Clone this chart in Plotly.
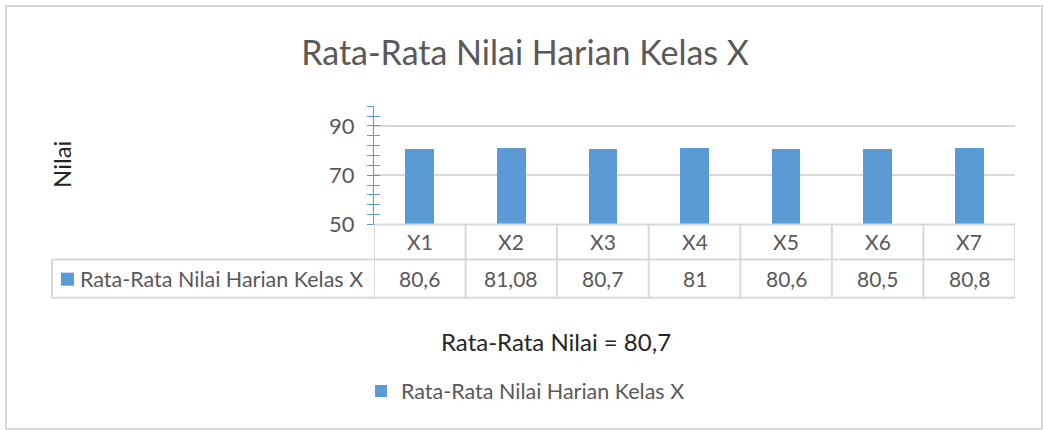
import plotly.graph_objects as go

categories = ["X1", "X2", "X3", "X4", "X5", "X6", "X7"]
values = [80.6, 81.08, 80.7, 81, 80.6, 80.5, 80.8]
series_name = "Rata-Rata Nilai Harian Kelas X"
chart_title = "Rata-Rata Nilai Harian Kelas X"
x_title = "Rata-Rata Nilai = 80,7"
y_title = "Nilai"
y_ticks = [50, 70, 90]

W, H = 1044, 444
REF_H = 430
FONT = "Lato, 'Open Sans', sans-serif"
GRAY = "#595959"
DARK = "#262626"
GRID = "#D9D9D9"
BLUE = "#5B9BD5"

# plot area in reference pixels
px0, px1 = 374, 1015
py_top, py_bot = 106, 224
row1_bot, row2_bot = 259, 297
legend_cell_left = 52

def fx(p):
    return p / W

def fy(p):
    return 1 - p / REF_H

fig = go.Figure()
fig.add_trace(go.Bar(
    x=categories, y=values, name=series_name,
    marker=dict(color=BLUE, line=dict(width=0)),
    width=0.313, showlegend=True,
))
# overlay axis to produce crossing ticks
fig.add_trace(go.Scatter(x=categories, y=values, yaxis="y2", mode="none",
                         showlegend=False, hoverinfo="skip"))

fig.update_layout(
    width=W, height=H,
    margin=dict(l=0, r=0, t=0, b=0),
    paper_bgcolor="white", plot_bgcolor="white",
    font=dict(family=FONT, color=GRAY, size=18),
    title=dict(text=chart_title, x=525 / W, xanchor="center", y=fy(51), yanchor="middle",
               font=dict(size=34, color=GRAY, family=FONT)),
    xaxis=dict(domain=[fx(px0), fx(px1)], range=[-0.5, len(categories) - 0.5],
               showticklabels=False, ticks="", showgrid=False, showline=False, zeroline=False),
    yaxis=dict(domain=[fy(py_bot), fy(py_top)], range=[50, 98],
               tickvals=y_ticks, ticks="outside", ticklen=6, tickcolor=BLUE, tickwidth=1,
               minor=dict(dtick=4, tick0=50, ticks="outside", ticklen=6, tickcolor=BLUE, showgrid=False),
               showgrid=True, gridcolor=GRID, gridwidth=2,
               showline=True, linecolor=BLUE, linewidth=1, zeroline=False,
               tickfont=dict(size=22, color=GRAY), ticklabelstandoff=8),
    yaxis2=dict(overlaying="y", range=[50, 98], tickvals=y_ticks, ticks="inside", ticklen=6,
                tickcolor=BLUE, showticklabels=False, showgrid=False, zeroline=False,
                minor=dict(dtick=4, tick0=50, ticks="inside", ticklen=6, tickcolor=BLUE, showgrid=False),
                showline=False, anchor="x"),
    legend=dict(orientation="h", x=361 / W, xanchor="left", y=fy(390), yanchor="middle",
                font=dict(size=21.5, color=GRAY, family=FONT), itemwidth=30),
    bargap=0,
)

shapes = []
line = dict(color=GRID, width=2)
# outer border
shapes.append(dict(type="rect", xref="paper", yref="paper", x0=fx(6), x1=fx(1042), y0=fy(428), y1=fy(6),
                   line=dict(color=GRID, width=2)))
# horizontal table lines
shapes.append(dict(type="line", xref="paper", yref="paper", x0=fx(px0), x1=fx(px1), y0=fy(py_bot), y1=fy(py_bot), line=line))
for yy in (row1_bot, row2_bot):
    shapes.append(dict(type="line", xref="paper", yref="paper", x0=fx(legend_cell_left), x1=fx(px1),
                       y0=fy(yy), y1=fy(yy), line=line))
shapes.append(dict(type="line", xref="paper", yref="paper", x0=fx(legend_cell_left), x1=fx(legend_cell_left),
                   y0=fy(row2_bot), y1=fy(row1_bot), line=line))
# vertical table lines at category boundaries
for i in range(len(categories) + 1):
    shapes.append(dict(type="line", xref="x", yref="paper", x0=i - 0.5, x1=i - 0.5,
                       y0=fy(row2_bot), y1=fy(py_bot), line=line))
# legend key in table
shapes.append(dict(type="rect", xref="paper", yref="paper", x0=fx(61), x1=fx(74), y0=fy(285), y1=fy(272),
                   fillcolor=BLUE, line=dict(width=0)))
fig.update_layout(shapes=shapes)

ann = []
for c, v in zip(categories, values):
    ann.append(dict(x=c, xref="x", y=fy(241), yref="paper", text=c, showarrow=False,
                    font=dict(size=21, color=GRAY)))
    ann.append(dict(x=c, xref="x", y=fy(278), yref="paper", text=f"{v:g}".replace(".", ","),
                    showarrow=False, font=dict(size=21, color=GRAY)))
ann.append(dict(x=fx(78), xref="paper", xanchor="left", y=fy(278), yref="paper", text=series_name,
                showarrow=False, font=dict(size=21.5, color=GRAY)))
ann.append(dict(x=fx(556), xref="paper", y=fy(357), yref="paper", text=x_title, showarrow=False,
                font=dict(size=24, color=DARK)))
ann.append(dict(x=fx(45), xref="paper", y=fy(164), yref="paper", text=y_title, showarrow=False,
                textangle=-90, font=dict(size=24, color=DARK)))
fig.update_layout(annotations=ann)

css_fix = (
    "var s=document.createElement('style');"
    "s.textContent='html,body{margin:0;padding:0;overflow:hidden;}';"
    "document.head.appendChild(s);"
)
fig.write_html("out.html", config={"displayModeBar": False}, post_script=css_fix)
